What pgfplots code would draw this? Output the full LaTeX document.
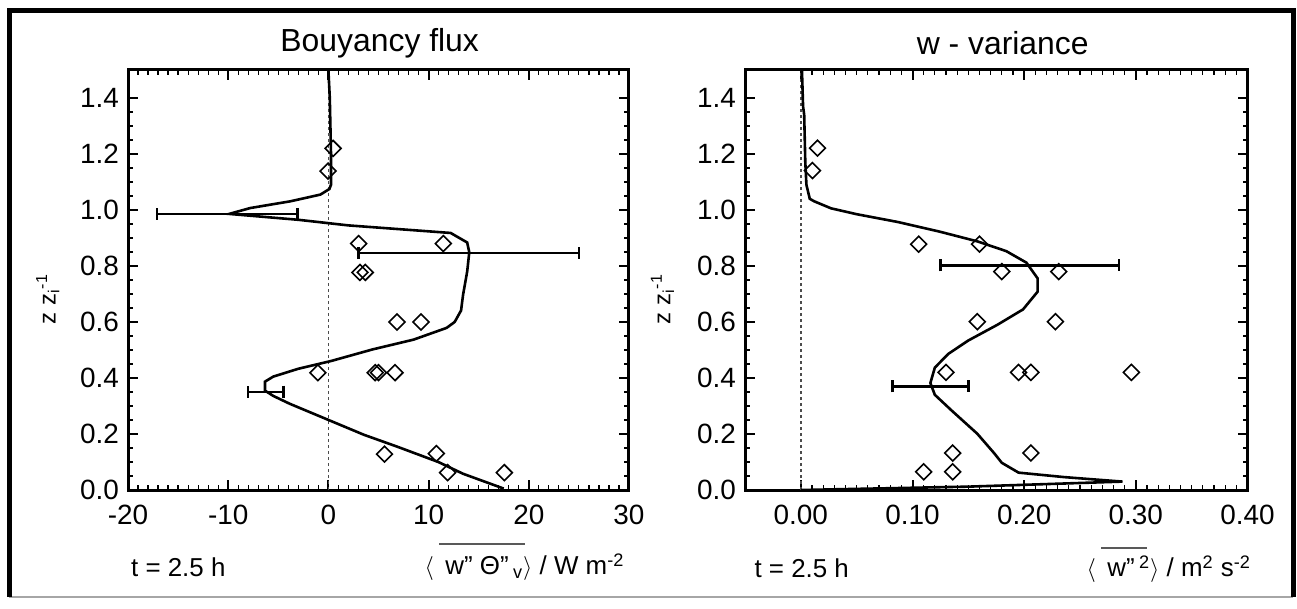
\documentclass[border=0pt]{standalone}
\usepackage{pgfplots}
\pgfplotsset{compat=1.18}
\usepackage{fontspec}
\setmainfont{Liberation Sans}
\setsansfont{Liberation Sans}

\pgfplotsset{
  profile/.style={
    scale only axis,
    width=250.5bp, height=210bp,
    axis line style={line width=1.5bp},
    ymin=0, ymax=1.5,
    ytick={0,0.2,...,1.4},
    minor y tick num=3,
    minor x tick num=9,
    tick align=inside,
    major tick length=5bp, minor tick length=2.5bp,
    major tick style={line width=1bp, black},
    minor tick style={line width=0.6bp, black},
    tick label style={font=\fontsize{14}{14}\selectfont},
    /pgf/number format/assume math mode=true,
    yticklabel style={/pgf/number format/.cd, fixed, fixed zerofill, precision=1},
    yticklabel shift=1bp,
    xticklabel shift=4bp,
    clip=false,
  },
  zeroline/.style={dash pattern=on 1.5bp off 1.5bp, line width=0.8bp, black!70},
  profline/.style={line width=1.3bp, black, mark=none},
  obs/.style={only marks, mark=square, mark size=2.8bp,
    mark options={rotate=45, line width=0.8bp, black, fill=none}},
  ebar/.style={draw=none, mark=none,
    error bars/.cd, x dir=both, x explicit,
    error bar style={draw=black, line width=1.2bp, solid},
    error mark options={rotate=90, draw=black, mark size=3bp, line width=1.2bp}},
}

\begin{document}
\begin{tikzpicture}
\useasboundingbox (0,0) rectangle (648.5bp,304.5bp);

% outer frame
\draw[line width=1.2bp, black!35] (4.5bp,6bp) -- (646.5bp,6bp);
\draw[line width=2.5bp, black] (4.5bp,6bp) -- (4.5bp,299bp) -- (646.5bp,299bp) -- (646.5bp,6bp);

% ---------------- buoyancy flux ----------------
\begin{axis}[profile,
  at={(64bp,59.5bp)}, anchor=south west,
  xmin=-20, xmax=30,
  xtick={-20,-10,...,30},
]
\addplot[zeroline] coordinates {(0,0) (0,1.5)};
\addplot[profline] coordinates {
  (0.0,1.50) (0.14,1.40) (0.26,1.20) (0.26,1.09) (0.1,1.075)
  (-0.8,1.055) (-3.8,1.031) (-7.8,1.007) (-9.9,0.986)
  (-3.0,0.965) (2.0,0.945) (12.2,0.918) (13.85,0.884) (14.06,0.849)
  (13.85,0.78) (13.44,0.697) (13.24,0.641) (12.6,0.60) (11.8,0.579)
  (8.5,0.537) (4.4,0.502) (0.3,0.461) (-3.0,0.433) (-5.5,0.405)
  (-6.33,0.387) (-6.33,0.355) (-5.5,0.336) (-3.86,0.308) (-0.15,0.2525)
  (3.56,0.197) (6.85,0.155) (10.97,0.10) (13.44,0.058) (17.5,0.005)
};
\addplot[ebar] coordinates {
  (-10.1,0.986) +- (7.0,0)
  (14.0,0.846) +- (11.0,0)
  (-6.25,0.351) +- (1.75,0)
};
\addplot[obs] coordinates {
  (0.47,1.22) (-0.03,1.139) (3.02,0.88) (11.47,0.88)
  (3.15,0.777) (3.68,0.777) (6.85,0.60) (9.24,0.60)
  (-1.05,0.419) (4.67,0.419) (5.0,0.419) (6.65,0.419)
  (5.6,0.128) (10.77,0.13) (11.9,0.062) (17.56,0.062)
};
\end{axis}

% ---------------- w variance ----------------
\begin{axis}[profile,
  at={(372.5bp,59.5bp)}, anchor=south west,
  width=251.25bp,
  xmin=-0.05, xmax=0.40,
  xtick={0,0.1,...,0.4},
  xticklabel style={/pgf/number format/.cd, fixed, fixed zerofill, precision=2},
]
\addplot[zeroline] coordinates {(0,0) (0,1.5)};
\addplot[profline] coordinates {
  (0.001,1.50) (0.002,1.37) (0.003,1.34) (0.004,1.17) (0.005,1.09)
  (0.008,1.04) (0.012,1.031) (0.027,1.006) (0.05,0.985) (0.087,0.957)
  (0.124,0.923) (0.158,0.888) (0.184,0.853) (0.202,0.812) (0.212,0.756)
  (0.212,0.708) (0.199,0.645) (0.176,0.59) (0.150,0.534) (0.132,0.486)
  (0.120,0.437) (0.116,0.382) (0.120,0.34) (0.135,0.284) (0.158,0.201)
  (0.173,0.132) (0.180,0.097) (0.195,0.062) (0.236,0.046) (0.288,0.030)
  (0.15,0.012) (0.0,0.0)
};
\addplot[ebar] coordinates {
  (0.205,0.802) +- (0.08,0)
  (0.116,0.370) +- (0.034,0)
};
\addplot[obs] coordinates {
  (0.0149,1.221) (0.0104,1.141) (0.1055,0.878) (0.160,0.878)
  (0.180,0.78) (0.231,0.78) (0.158,0.601) (0.228,0.601)
  (0.130,0.420) (0.195,0.420) (0.206,0.420) (0.296,0.420)
  (0.136,0.132) (0.206,0.132) (0.110,0.065) (0.136,0.065)
};
\end{axis}

% titles and labels
\node[font=\fontsize{16}{16}\selectfont] at (189.85bp,283bp) {Bouyancy flux};
\node[font=\fontsize{16}{16}\selectfont] at (501.35bp,283bp) {w - variance};
\node[rotate=90, font=\fontsize{12}{12}\selectfont] at (23.85bp,155bp) {z z\textsubscript{i}\textsuperscript{-1}};
\node[rotate=90, font=\fontsize{12}{12}\selectfont] at (331.2bp,155bp) {z z\textsubscript{i}\textsuperscript{-1}};
\node[font=\fontsize{13}{13}\selectfont] at (89.15bp,21bp) {t = 2.5 h};
\node[font=\fontsize{13}{13}\selectfont] at (400.85bp,20.5bp) {t = 2.5 h};
\node[font=\fontsize{13}{13}\selectfont] at (262.25bp,21bp)
  {$\langle$\, w" Θ"\,\textsubscript{v}$\rangle$ / W m\textsuperscript{-2}};
\node[font=\fontsize{13}{13}\selectfont] at (584.4bp,20bp)
  {$\langle$\, w"\,\textsuperscript{2}$\rangle$ / m\textsuperscript{2} s\textsuperscript{-2}};
\draw[line width=1bp, black!65] (219.5bp,32.5bp) -- (262.5bp,32.5bp);
\draw[line width=1bp, black!65] (550.5bp,30.25bp) -- (573.5bp,30.25bp);
\end{tikzpicture}
\end{document}
